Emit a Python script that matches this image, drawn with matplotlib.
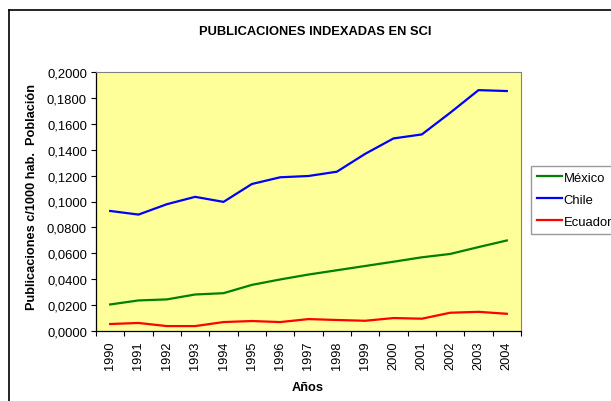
import numpy as np
import matplotlib.pyplot as plt
from matplotlib.lines import Line2D
from matplotlib.ticker import FixedLocator, FuncFormatter

plt.rcParams['font.family'] = ['Liberation Sans', 'DejaVu Sans']

years = ['1990', '1991', '1992', '1993', '1994', '1995', '1996', '1997',
         '1998', '1999', '2000', '2001', '2002', '2003', '2004']
mexico = [0.0205, 0.0236, 0.0244, 0.0282, 0.0292, 0.0356, 0.0398, 0.0436,
          0.0469, 0.0502, 0.0535, 0.0569, 0.0595, 0.0648, 0.0699]
chile = [0.0927, 0.0899, 0.0979, 0.1036, 0.0997, 0.1135, 0.1187, 0.1197,
         0.1230, 0.1368, 0.1487, 0.1518, 0.1685, 0.1860, 0.1853]
ecuador = [0.0054, 0.0062, 0.0038, 0.0038, 0.0069, 0.0077, 0.0069, 0.0092,
           0.0085, 0.0079, 0.0100, 0.0095, 0.0141, 0.0148, 0.0133]
series = [('México', mexico, '#008000'), ('Chile', chile, '#0000FF'),
          ('Ecuador', ecuador, '#FF0000')]

W, H = 611, 402
L, R, T, B = 96, 521, 73, 332
fig = plt.figure(figsize=(W / 100, H / 100), dpi=100)
ax = fig.add_axes([L / W, 1 - B / H, (R - L) / W, (B - T) / H])
ax.set_facecolor('#FFFF99')

x = np.arange(len(years))
for name, vals, col in series:
    ax.plot(x, vals, color=col, lw=1.6, label=name)

ax.set_xlim(-0.5, len(years) - 0.5)
ax.set_ylim(0, 0.2)
ax.set_yticks(np.arange(0, 0.2001, 0.02))
ax.yaxis.set_major_formatter(FuncFormatter(lambda v, p: f'{v:.4f}'.replace('.', ',')))
ax.xaxis.set_major_locator(FixedLocator(np.arange(-0.5, len(years), 1)))
ax.xaxis.set_minor_locator(FixedLocator(x))
ax.set_xticklabels([])
ax.set_xticklabels(years, minor=True, rotation=90)
ax.tick_params(axis='x', which='major', length=3.5, color='black', width=0.8)
ax.tick_params(axis='x', which='minor', length=0, labelsize=9.2, pad=7)
ax.tick_params(axis='y', length=3.5, labelsize=9.4, width=0.8, pad=3)

for s in ['top', 'right']:
    ax.spines[s].set_color('#808080')
    ax.spines[s].set_linewidth(0.8)
for s in ['left', 'bottom']:
    ax.spines[s].set_color('black')
    ax.spines[s].set_linewidth(0.9)

ax.set_ylabel('Publicaciones c/1000 hab.  Población', fontsize=9.2,
              fontweight='bold', va='center')
ax.yaxis.set_label_coords((32 - L) / (R - L), (B - 197.5) / (B - T))
ax.set_xlabel('Años', fontsize=9.2, fontweight='bold', va='center')
ax.xaxis.set_label_coords((308 - L) / (R - L), (B - 388) / (B - T))
fig.text(315 / W, 1 - 32 / H, 'PUBLICACIONES INDEXADAS EN SCI', ha='center',
         va='center', fontsize=9.3, fontweight='bold')

fig.legend(loc='upper left', bbox_to_anchor=(531 / W, 1 - 167 / H),
           fontsize=9.4, frameon=True, fancybox=False, edgecolor='#808080',
           handlelength=1.9, handletextpad=0.15, borderpad=0.45,
           labelspacing=0.75, borderaxespad=0)

# outer chart border
fig.add_artist(Line2D([9 / W, 9 / W], [0, 1 - 11 / H], transform=fig.transFigure,
                      color='black', lw=1.2))
fig.add_artist(Line2D([9 / W, 1], [1 - 11 / H, 1 - 11 / H], transform=fig.transFigure,
                      color='black', lw=1.2))

fig.savefig('out.png', dpi=100)
